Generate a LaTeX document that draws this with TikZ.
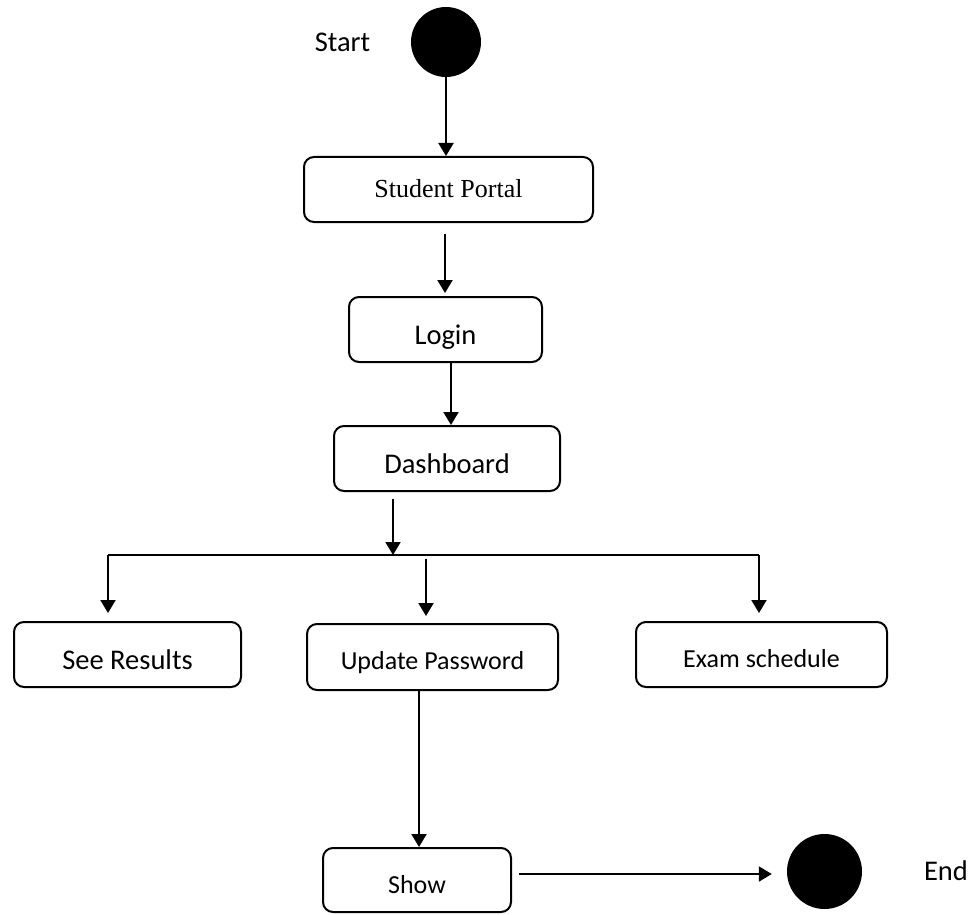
\documentclass[tikz,border=0pt]{standalone}
\usepackage{fontspec}
\setmainfont{Carlito}
\newfontfamily\timesfont{Liberation Serif}
\usetikzlibrary{arrows.meta,calc}

\tikzset{
  flow/.style={-{Triangle[width=15pt,length=13pt]}, line width=2pt},
  activity/.style={draw, line width=2pt, rounded corners=10pt, inner sep=0pt,
    text depth=0pt, align=center},
  bigtext/.style={activity, text height=29pt, font=\fontsize{28.5}{34}\selectfont},
  smalltext/.style={activity, text height=25pt, font=\fontsize{26}{31}\selectfont},
  endpoint/.style={circle, fill=black, inner sep=0pt},
  caption/.style={anchor=base, inner sep=0pt, font=\fontsize{28.5}{34}\selectfont}
}

\begin{document}
\begin{tikzpicture}[x=1pt,y=-1pt]
\useasboundingbox (0,0) rectangle (975,915);

% initial and final states
\node[endpoint, minimum size=70pt] (start) at (446,42) {};
\node[caption] (startlbl) at (342.5,52) {Start};
\node[endpoint, minimum size=75pt] (end) at (824.5,871.5) {};
\node[caption] (endlbl) at (946,880) {End};

% activities
\node[activity, minimum width=289pt, minimum height=65pt, text height=15pt,
      font=\timesfont\fontsize{26}{31}\selectfont] (portal) at (448.5,189.5) {Student Portal};
\node[bigtext, minimum width=193pt, minimum height=65pt] (login) at (445.5,329.5) {Login};
\node[bigtext, minimum width=226pt, minimum height=65pt] (dash) at (447,458.5) {Dashboard};
\node[bigtext, minimum width=227pt, minimum height=65pt] (results) at (127.5,654.5) {See Results};
\node[smalltext, minimum width=251pt, minimum height=66pt] (update) at (432.5,657) {Update Password};
\node[smalltext, minimum width=251pt, minimum height=65pt] (exam) at (761.5,654.5) {Exam schedule};
\node[smalltext, minimum width=188pt, minimum height=64pt, text height=26pt] (show) at (417,880) {Show};

% helper points for the free-standing connectors
\coordinate (pl) at (445,234);
\coordinate (db) at (393,499);
\coordinate (bl) at (108,555);
\coordinate (br) at (759,555);
\coordinate (mb) at (426,559);

% transitions
\draw[flow] (start.south) -- (start.south |- portal.north);
\draw[flow, shorten >=3pt] (pl) -- (pl |- login.north);
\draw[flow] ($(login.south)+(5.5,0)$) -- ($(login.south |- dash.north)+(5.5,0)$);
\draw[line width=2pt] (bl) -- (br);
\draw[flow] (db) -- (db |- bl);
\draw[flow, shorten >=8pt] (bl) -- (bl |- results.north);
\draw[flow, shorten >=7pt] (mb) -- (mb |- update.north);
\draw[flow, shorten >=8pt] (br) -- (br |- exam.north);
\draw[flow] ($(update.south)+(-13.5,0)$) -- ($(update.south |- show.north)+(-13.5,0)$);
\draw[flow] ($(show.east |- end.west)+(7,2.5)$) -- ($(end.west)+(-15,2.5)$);
\end{tikzpicture}
\end{document}
